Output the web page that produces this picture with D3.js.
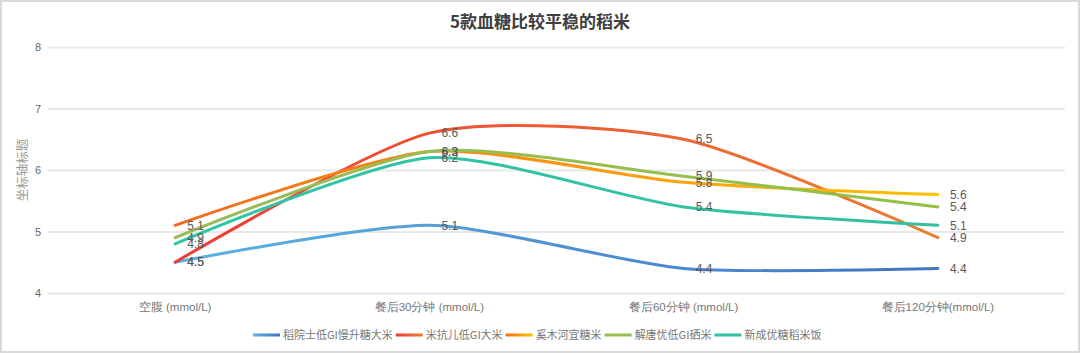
<!DOCTYPE html>
<html>
<head>
<meta charset="utf-8">
<script src="https://cdn.jsdelivr.net/npm/d3@7"></script>
<style>
  body { margin: 0; background: #fff; }
  svg { display: block; font-family: "Noto Sans CJK SC", "Liberation Sans", sans-serif; }
</style>
</head>
<body>
<div id="chart"></div>
<script>
const width = 1080;
const height = 353;

// data
const categories = ["空腹 (mmol/L)", "餐后30分钟 (mmol/L)", "餐后60分钟 (mmol/L)", "餐后120分钟(mmol/L)"];
const seriesNames = ["稻院士低GI慢升糖大米", "米抗儿低GI大米", "奚木河宜糖米", "解唐忧低GI硒米", "新成优糖稻米饭"];
const daoyuanshi = [4.5, 5.1, 4.4, 4.4];
const mikanger = [4.5, 6.6, 6.5, 4.9];
const ximuhe = [5.1, 6.3, 5.8, 5.6];
const jietangyou = [4.9, 6.3, 5.9, 5.4];
const xincheng = [4.8, 6.2, 5.4, 5.1];
const yTicks = [4, 5, 6, 7, 8];

// colours: start / end of each line's gradient
const colors = [
    ["#5ab4de", "#4472c4"],
    ["#ec3b36", "#ee7d31"],
    ["#f26b1d", "#ffc000"],
    ["#9bbb59", "#92c045"],
    ["#2fc6a6", "#34bfa3"]
];

const allSeries = [daoyuanshi, mikanger, ximuhe, jietangyou, xincheng];

const margin = { top: 47, left: 48, right: 15, bottom: 60 };

const svg = d3.select("#chart").append("svg")
    .attr("width", width)
    .attr("height", height);

// outer frame
svg.append("rect")
    .attr("x", 1).attr("y", 1)
    .attr("width", width - 2).attr("height", height - 2)
    .attr("fill", "#fff")
    .attr("stroke", "#d9d9d9")
    .attr("stroke-width", 2);

const xScale = d3.scaleBand()
    .domain(categories)
    .range([margin.left, width - margin.right]);

const yScale = d3.scaleLinear()
    .domain([4, 8])
    .range([height - margin.bottom, margin.top]);

const xPos = (i) => xScale(categories[i]) + xScale.bandwidth() / 2;

// gradients
const defs = svg.append("defs");
colors.forEach((c, i) => {
    const g = defs.append("linearGradient")
        .attr("id", "line" + i)
        .attr("gradientUnits", "userSpaceOnUse")
        .attr("x1", xPos(0)).attr("x2", xPos(3))
        .attr("y1", 0).attr("y2", 0);
    g.append("stop").attr("offset", "0%").attr("stop-color", c[0]);
    g.append("stop").attr("offset", "100%").attr("stop-color", c[1]);

    const lg = defs.append("linearGradient")
        .attr("id", "leg" + i)
        .attr("x1", "0%").attr("x2", "100%");
    lg.append("stop").attr("offset", "0%").attr("stop-color", c[0]);
    lg.append("stop").attr("offset", "100%").attr("stop-color", c[1]);
});

// title
svg.append("text")
    .attr("x", width / 2)
    .attr("y", 28)
    .attr("text-anchor", "middle")
    .attr("font-size", "17px")
    .attr("font-weight", "bold")
    .attr("fill", "#404040")
    .text("5款血糖比较平稳的稻米");

// y axis + grid
const yAxis = svg.append("g")
    .attr("transform", `translate(${margin.left},0)`)
    .call(d3.axisLeft(yScale).tickValues(yTicks).tickFormat(d3.format("d"))
        .tickSize(-(width - margin.left - margin.right)).tickPadding(7));
yAxis.select(".domain").remove();
yAxis.selectAll(".tick line")
    .attr("stroke", "#e8e8e8")
    .attr("stroke-width", 2);
yAxis.selectAll(".tick text")
    .attr("font-size", "11px")
    .attr("fill", "#666")
    .attr("font-family", "Liberation Sans, sans-serif");

svg.append("text")
    .attr("transform", `translate(27,${(margin.top + height - margin.bottom) / 2}) rotate(-90)`)
    .attr("text-anchor", "middle")
    .attr("font-size", "12.5px")
    .attr("fill", "#999")
    .text("坐标轴标题");

// x axis labels
const xAxis = svg.append("g")
    .attr("transform", `translate(0,${height - margin.bottom})`)
    .call(d3.axisBottom(xScale).tickSize(0).tickPadding(10));
xAxis.select(".domain").remove();
xAxis.selectAll(".tick text")
    .attr("font-size", "11.5px")
    .attr("fill", "#777");

// lines
const line = d3.line()
    .x((d, i) => xPos(i))
    .y(d => yScale(d))
    .curve(d3.curveCardinal.tension(0.3));

svg.selectAll(".series")
    .data(allSeries)
    .enter()
    .append("path")
    .attr("class", "series")
    .attr("d", d => line(d))
    .attr("fill", "none")
    .attr("stroke", (d, i) => `url(#line${i})`)
    .attr("stroke-width", 3)
    .attr("stroke-linecap", "round");

// data labels
allSeries.forEach((s) => {
    svg.selectAll(null)
        .data(s)
        .enter()
        .append("text")
        .attr("x", (d, i) => xPos(i) + 12)
        .attr("y", d => yScale(d))
        .attr("dy", "0.35em")
        .attr("font-size", "12px")
        .attr("font-family", "Liberation Sans, sans-serif")
        .attr("fill", "#595959")
        .text(d => d.toFixed(1));
});

// legend
const legend = svg.append("g")
    .attr("transform", `translate(253,335)`);
let lx = 0;
seriesNames.forEach((name, i) => {
    const item = legend.append("g").attr("transform", `translate(${lx},0)`);
    item.append("rect")
        .attr("x", 0).attr("y", -1.5)
        .attr("width", 27).attr("height", 3)
        .attr("fill", `url(#leg${i})`);
    const t = item.append("text")
        .attr("x", 30)
        .attr("dy", "0.35em")
        .attr("font-size", "11px")
        .attr("fill", "#777")
        .text(name);
    lx += 30 + t.node().getComputedTextLength() + 3;
});
</script>
</body>
</html>
